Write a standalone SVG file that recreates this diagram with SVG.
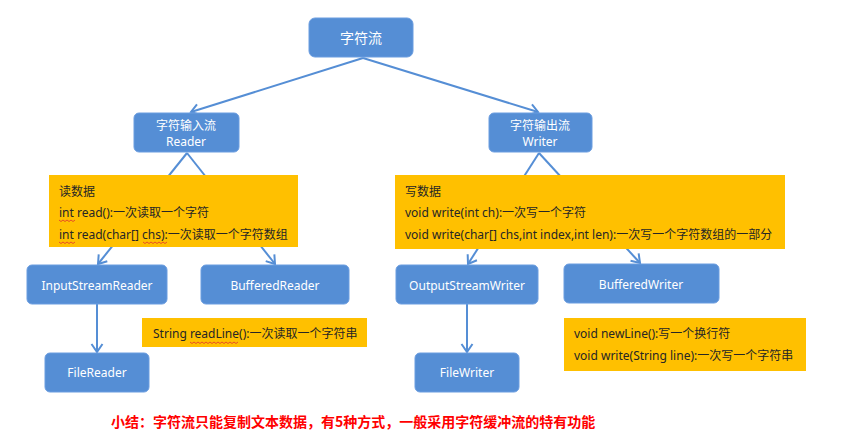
<svg xmlns="http://www.w3.org/2000/svg" width="854" height="437" viewBox="0 0 854 437">
<defs>
<marker id="arr" markerUnits="userSpaceOnUse" markerWidth="14" markerHeight="14" viewBox="-10 -7 12 14" refX="0" refY="0" orient="auto">
<path d="M-8,-5.5 L0,0 L-8,5.5" fill="none" stroke="#558ed5" stroke-width="2"/>
</marker>
<style>
.node{fill:#558ed5;stroke:#6b9de0;stroke-width:1}
.nt{fill:#ffffff;font-family:"Noto Sans","Noto Sans CJK SC",sans-serif;font-size:12px;text-anchor:middle}
.note{fill:#ffc000}
.tx{fill:#262626;font-family:"Noto Sans","Noto Sans CJK SC",sans-serif;font-size:12px}
.con{stroke:#558ed5;stroke-width:2;fill:none;marker-end:url(#arr)}
.sq{stroke:#e03030;stroke-width:0.8;fill:none}
</style>
</defs>
<rect width="854" height="437" fill="#ffffff"/>
<g id="connectors">
<line class="con" x1="363" y1="58" x2="191" y2="112"/>
<line class="con" x1="363" y1="58" x2="538" y2="112"/>
<line class="con" x1="187" y1="153" x2="98" y2="264"/>
<line class="con" x1="187" y1="153" x2="275" y2="264"/>
<line class="con" x1="539" y1="153" x2="468" y2="264"/>
<line class="con" x1="539" y1="153" x2="640" y2="263"/>
<line class="con" x1="97" y1="304" x2="97" y2="352"/>
<line class="con" x1="467" y1="304" x2="467" y2="352"/>
</g>
<g id="root">
<rect class="node" x="309" y="18" width="104" height="39" rx="6"/>
<text class="nt" x="361" y="43" style="font-size:14px">字符流</text>
</g>
<g id="reader">
<rect class="node" x="134" y="113" width="105" height="39" rx="5"/>
<text class="nt" x="186" y="130">字符输入流</text>
<text class="nt" x="186" y="146">Reader</text>
</g>
<g id="writer">
<rect class="node" x="489" y="113" width="103" height="39" rx="5"/>
<text class="nt" x="540" y="130">字符输出流</text>
<text class="nt" x="540" y="146">Writer</text>
</g>
<g id="read-note">
<rect class="note" x="49" y="175" width="249" height="72"/>
<text class="tx" x="59" y="196">读数据</text>
<text class="tx" x="59" y="217">int read():一次读取一个字符</text>
<text class="tx" x="59" y="239">int read(char[] chs):一次读取一个字符数组</text>
<path class="sq" d="M59,220 l2,1.5 l2,-1.5 l2,1.5 l2,-1.5 l2,1.5 l2,-1.5 l2,1.5 l2,-1.5"/>
<path class="sq" d="M59,242 l2,1.5 l2,-1.5 l2,1.5 l2,-1.5 l2,1.5 l2,-1.5 l2,1.5 l2,-1.5"/>
<path class="sq" d="M143,242 l2,1.5 l2,-1.5 l2,1.5 l2,-1.5 l2,1.5 l2,-1.5 l2,1.5 l2,-1.5 l2,1.5 l2,-1.5 l2,1.5 l2,-1.5"/>
</g>
<g id="write-note">
<rect class="note" x="395" y="175" width="390" height="74"/>
<text class="tx" x="405" y="196">写数据</text>
<text class="tx" x="405" y="217">void write(int ch):一次写一个字符</text>
<text class="tx" x="405" y="239">void write(char[] chs,int index,int len):一次写一个字符数组的一部分</text>
</g>
<g id="inputstreamreader">
<rect class="node" x="27" y="265" width="140" height="39" rx="5"/>
<text class="nt" x="97" y="290">InputStreamReader</text>
</g>
<g id="bufferedreader">
<rect class="node" x="201" y="265" width="148" height="39" rx="5"/>
<text class="nt" x="275" y="290">BufferedReader</text>
</g>
<g id="outputstreamwriter">
<rect class="node" x="396" y="265" width="142" height="39" rx="5"/>
<text class="nt" x="467" y="290">OutputStreamWriter</text>
</g>
<g id="bufferedwriter">
<rect class="node" x="564" y="264" width="155" height="39" rx="5"/>
<text class="nt" x="641" y="289">BufferedWriter</text>
</g>
<g id="readline-note">
<rect class="note" x="142" y="318" width="225" height="29"/>
<text class="tx" x="153" y="338">String readLine():一次读取一个字符串</text>
<path class="sq" d="M190,342 l2,1.5 l2,-1.5 l2,1.5 l2,-1.5 l2,1.5 l2,-1.5 l2,1.5 l2,-1.5 l2,1.5 l2,-1.5 l2,1.5 l2,-1.5 l2,1.5 l2,-1.5 l2,1.5 l2,-1.5 l2,1.5 l2,-1.5 l2,1.5 l2,-1.5 l2,1.5 l2,-1.5 l2,1.5 l2,-1.5"/>
</g>
<g id="filereader">
<rect class="node" x="45" y="353" width="104" height="39" rx="5"/>
<text class="nt" x="97" y="377">FileReader</text>
</g>
<g id="filewriter">
<rect class="node" x="415" y="353" width="104" height="39" rx="5"/>
<text class="nt" x="467" y="377">FileWriter</text>
</g>
<g id="newline-note">
<rect class="note" x="564" y="318" width="242" height="53"/>
<text class="tx" x="574" y="338">void newLine():写一个换行符</text>
<text class="tx" x="574" y="360">void write(String line):一次写一个字符串</text>
</g>
<g id="summary">
<text x="111" y="427" style="fill:#ff0000;font-family:'Noto Sans CJK SC',sans-serif;font-size:14px;font-weight:bold">小结：字符流只能复制文本数据，有5种方式，一般采用字符缓冲流的特有功能</text>
</g>
</svg>
